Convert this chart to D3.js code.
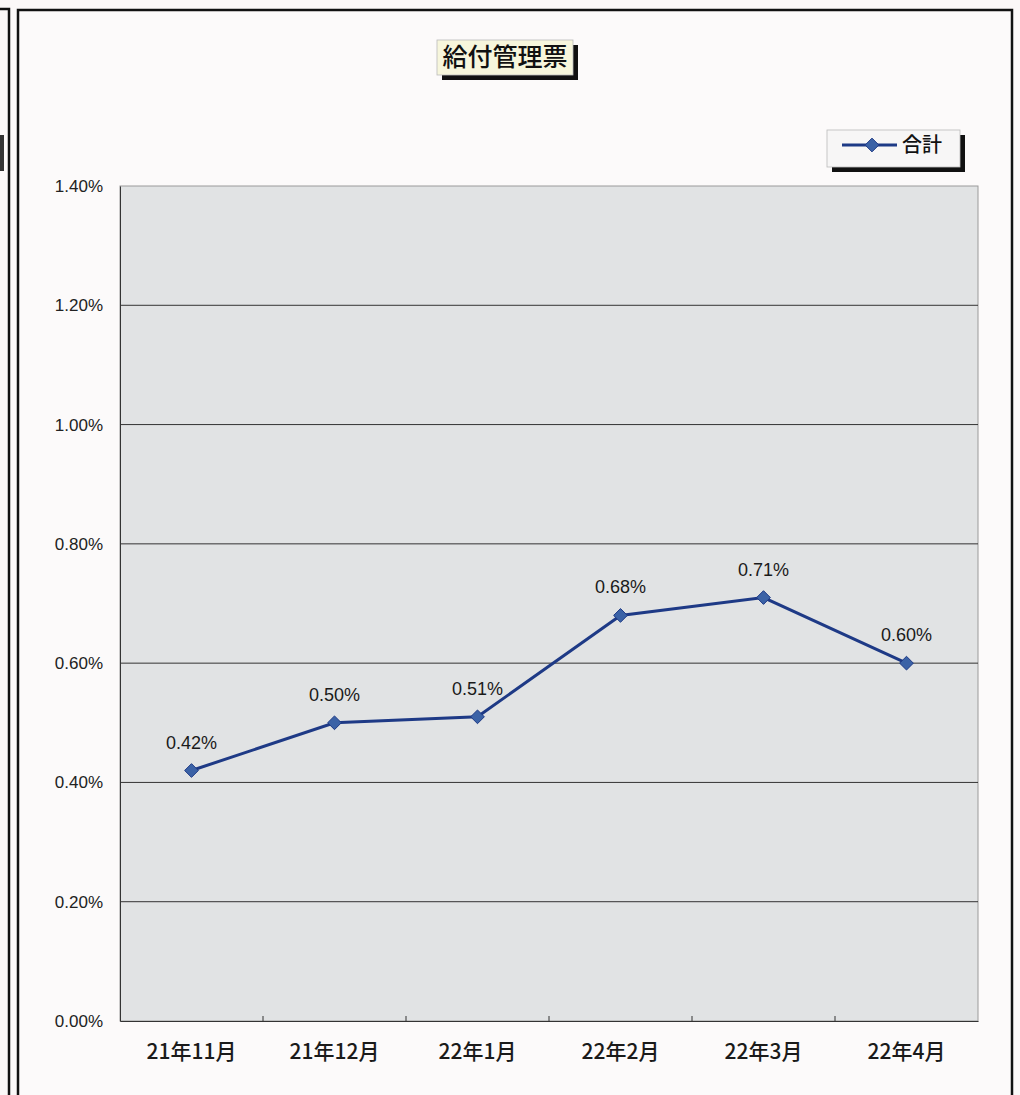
<!DOCTYPE html>
<html>
<head>
<meta charset="utf-8">
<script src="https://cdn.jsdelivr.net/npm/d3@7"></script>
<style>
  html, body { margin: 0; padding: 0; background: #fbf8f8; }
  svg { display: block; }
</style>
</head>
<body>
<div id="chart"></div>
<script>
const categories = ['21年11月', '21年12月', '22年1月', '22年2月', '22年3月', '22年4月'];
const values = [0.42, 0.50, 0.51, 0.68, 0.71, 0.60];
const yTicks = [0, 0.2, 0.4, 0.6, 0.8, 1.0, 1.2, 1.4];
const seriesName = '合計';
const title = '給付管理票';

const width = 1020, height = 1095;
const margin = { top: 186, right: 42, bottom: 74, left: 120 };
const innerWidth = width - margin.left - margin.right;
const innerHeight = height - margin.top - margin.bottom;
const jpFont = '"Noto Sans CJK JP", "Noto Sans", sans-serif';
const numFont = '"Liberation Sans", Arial, sans-serif';
const lineColor = '#1e3a86';

const svg = d3.select('#chart').append('svg')
  .attr('width', width).attr('height', height);

// neighbouring chart frame peeking in on the left
svg.append('path').attr('d', 'M0,9 H9 V1095').attr('fill', 'none').attr('stroke', '#111').attr('stroke-width', 2.5);
svg.append('rect').attr('x', 0).attr('y', 135).attr('width', 4).attr('height', 36).attr('fill', '#333');

// main chart frame (bottom edge runs off the picture)
svg.append('path').attr('d', 'M18,1095 V10 H1012 V1095')
  .attr('fill', '#fcfafa').attr('stroke', '#111').attr('stroke-width', 2.5);

const g = svg.append('g').attr('transform', `translate(${margin.left},${margin.top})`);

const x = d3.scaleBand().domain(categories).range([0, innerWidth]);
const y = d3.scaleLinear().domain([0, 1.4]).range([innerHeight, 0]);

g.append('rect').attr('width', innerWidth).attr('height', innerHeight)
  .attr('fill', '#e1e3e4').attr('stroke', '#9a9a9a').attr('stroke-width', 1);

// gridlines
g.append('g').selectAll('line').data(yTicks.filter((d) => d > 0 && d < 1.4))
  .join('line')
  .attr('x1', 0).attr('x2', innerWidth)
  .attr('y1', (d) => y(d)).attr('y2', (d) => y(d))
  .attr('stroke', '#333').attr('stroke-width', 1);

// axes
const yAxis = g.append('g').call(d3.axisLeft(y).tickValues(yTicks).tickSize(0).tickPadding(17)
  .tickFormat((d) => d3.format('.2f')(d) + '%'))
  .attr('font-family', numFont).attr('font-size', 17);
yAxis.select('.domain').attr('stroke', '#333');
yAxis.selectAll('text').attr('fill', '#222');

const xAxis = g.append('g').attr('transform', `translate(0,${innerHeight})`)
  .call(d3.axisBottom(x).tickSize(0).tickPadding(23))
  .attr('font-family', jpFont).attr('font-size', 21);
xAxis.select('.domain').attr('stroke', '#333');
xAxis.selectAll('text').attr('fill', '#1a1a1a').attr('font-weight', 500);

// tick marks at category boundaries
g.append('g').selectAll('line').data(categories.slice(1))
  .join('line')
  .attr('x1', (d) => x(d)).attr('x2', (d) => x(d))
  .attr('y1', innerHeight).attr('y2', innerHeight - 5)
  .attr('stroke', '#333');

// series line
const cx = (d, i) => x(categories[i]) + x.bandwidth() / 2;
const line = d3.line().x(cx).y((d) => y(d));
g.append('path').datum(values).attr('d', line)
  .attr('fill', 'none').attr('stroke', lineColor).attr('stroke-width', 3);

const diamond = d3.symbol().type(d3.symbolDiamond2).size(120);
g.append('g').selectAll('path').data(values)
  .join('path')
  .attr('d', diamond)
  .attr('transform', (d, i) => `translate(${cx(d, i)},${y(d)})`)
  .attr('fill', '#3b62a6').attr('stroke', lineColor).attr('stroke-width', 1);

g.append('g').attr('font-family', numFont).attr('font-size', 18)
  .selectAll('text').data(values)
  .join('text')
  .attr('x', cx).attr('y', (d) => y(d) - 22)
  .attr('text-anchor', 'middle')
  .attr('fill', '#1a1a1a')
  .text((d) => d3.format('.2f')(d) + '%');

// title box with shadow
const tg = svg.append('g').attr('transform', 'translate(437,40)');
tg.append('rect').attr('x', 5).attr('y', 5).attr('width', 136).attr('height', 35).attr('fill', '#111');
tg.append('rect').attr('width', 136).attr('height', 35).attr('fill', '#f7f6dc').attr('stroke', '#bbb').attr('stroke-width', 0.8);
tg.append('text').attr('x', 68).attr('y', 26).attr('text-anchor', 'middle')
  .attr('font-family', jpFont).attr('font-weight', 500).attr('font-size', 25).attr('fill', '#111').text(title);

// legend box with shadow
const lg = svg.append('g').attr('transform', 'translate(827,130)');
lg.append('rect').attr('x', 5).attr('y', 5).attr('width', 133).attr('height', 37).attr('fill', '#111');
lg.append('rect').attr('width', 133).attr('height', 37).attr('fill', '#f7f6f6').attr('stroke', '#bbb').attr('stroke-width', 0.8);
lg.append('line').attr('x1', 15).attr('x2', 70).attr('y1', 15).attr('y2', 15)
  .attr('stroke', lineColor).attr('stroke-width', 3);
lg.append('path').attr('d', diamond).attr('transform', 'translate(45,15)')
  .attr('fill', '#3b62a6').attr('stroke', lineColor);
lg.append('text').attr('x', 75).attr('y', 22)
  .attr('font-family', jpFont).attr('font-weight', 500).attr('font-size', 20).attr('fill', '#111').text(seriesName);
</script>
</body>
</html>
